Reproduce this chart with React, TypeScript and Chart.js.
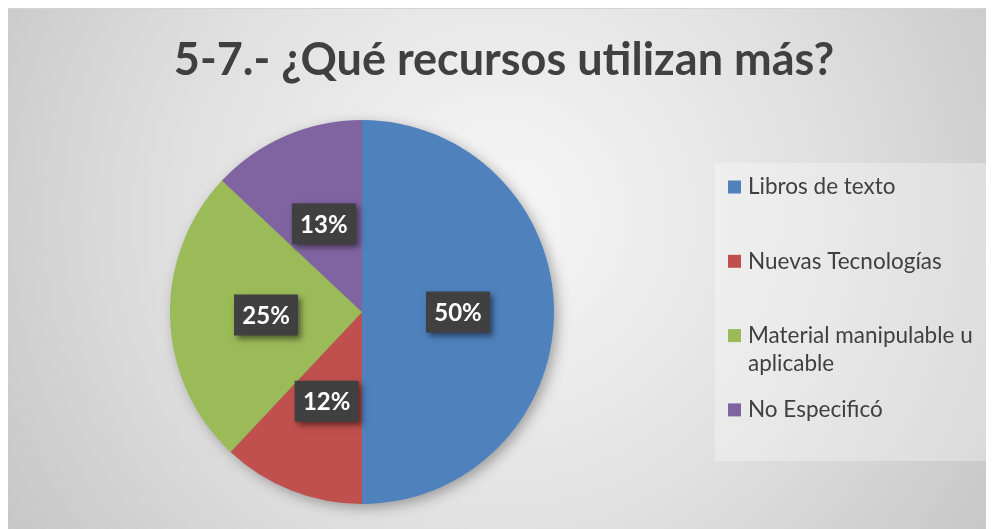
import React, { useEffect, useRef } from "react";
import { Chart, registerables } from "chart.js";

Chart.register(...registerables);

const TITLE = "5-7.- ¿Qué recursos utilizan más?";
const CATEGORIES = ["Libros de texto", "Nuevas Tecnologías", "Material manipulable u aplicable", "No Especificó"];
const VALUES = [50, 12, 25, 13];
const PCT_LABELS = ["50%", "12%", "25%", "13%"];
const COLORS = ["#4f81bd", "#c0504d", "#9bbb59", "#8064a2"];

const W = 986;
const H = 521;

const bgPlugin = {
  id: "bg",
  beforeDraw(chart: any) {
    const { ctx, width, height } = chart;
    ctx.save();
    const g = ctx.createRadialGradient(width * 0.5, height * 0.4, 0, width * 0.5, height * 0.4, width * 0.6);
    g.addColorStop(0, "#f7f7f7");
    g.addColorStop(0.55, "#e0e0e0");
    g.addColorStop(1, "#c6c6c6");
    ctx.fillStyle = g;
    ctx.fillRect(0, 0, width, height);
    ctx.fillStyle = "#d4d4d4";
    ctx.fillRect(0, 0, width, 1);
    ctx.fillStyle = "#404040";
    ctx.font = "bold 45px Lato";
    ctx.textAlign = "center";
    ctx.textBaseline = "middle";
    ctx.fillText(TITLE, 496, 52);
    ctx.restore();
  },
  beforeDatasetsDraw(chart: any) {
    const arc = chart.getDatasetMeta(0).data[0];
    if (!arc) return;
    const { ctx } = chart;
    ctx.save();
    ctx.shadowColor = "rgba(0,0,0,0.35)";
    ctx.shadowBlur = 14;
    ctx.shadowOffsetX = 4;
    ctx.shadowOffsetY = 4;
    ctx.fillStyle = "#888";
    ctx.beginPath();
    ctx.arc(arc.x, arc.y, arc.outerRadius - 1, 0, Math.PI * 2);
    ctx.fill();
    ctx.restore();
  },
  afterDatasetsDraw(chart: any) {
    const { ctx } = chart;
    const meta = chart.getDatasetMeta(0);
    meta.data.forEach((arc: any, i: number) => {
      const p = arc.tooltipPosition();
      const bw = 64, bh = 41;
      ctx.save();
      ctx.shadowColor = "rgba(0,0,0,0.5)";
      ctx.shadowBlur = 6;
      ctx.shadowOffsetX = 3;
      ctx.shadowOffsetY = 3;
      ctx.fillStyle = "#404040";
      ctx.fillRect(p.x - bw / 2, p.y - bh / 2, bw, bh);
      ctx.restore();
      ctx.save();
      ctx.fillStyle = "#ffffff";
      ctx.font = "bold 24px Lato";
      ctx.textAlign = "center";
      ctx.textBaseline = "middle";
      ctx.fillText(PCT_LABELS[i], p.x, p.y + 1);
      ctx.restore();
    });
  },
  afterDraw(chart: any) {
    const { ctx } = chart;
    ctx.save();
    const bx = 707, by = 155, bw = 272, bh = 298;
    ctx.fillStyle = "rgba(255,255,255,0.3)";
    ctx.fillRect(bx, by, bw, bh);
    ctx.font = "22.5px Lato";
    ctx.textBaseline = "middle";
    ctx.textAlign = "left";
    const textX = 740;
    const maxW = 236;
    const startY = 179;
    const step = 74.3;
    CATEGORIES.forEach((label, i) => {
      const y = startY + i * step;
      ctx.fillStyle = COLORS[i];
      ctx.fillRect(720, y - 6.5, 13, 13);
      ctx.fillStyle = "#404040";
      const words = label.split(" ");
      const lines: string[] = [];
      let cur = "";
      words.forEach((w) => {
        const t = cur ? cur + " " + w : w;
        if (ctx.measureText(t).width > maxW && cur) {
          lines.push(cur);
          cur = w;
        } else cur = t;
      });
      if (cur) lines.push(cur);
      lines.forEach((ln, j) => ctx.fillText(ln, textX, y + j * 28));
    });
    ctx.restore();
  },
};

export default function App() {
  const ref = useRef<HTMLCanvasElement>(null);
  useEffect(() => {
    if (!ref.current) return;
    const chart = new Chart(ref.current, {
      type: "pie",
      data: {
        labels: CATEGORIES,
        datasets: [
          {
            data: VALUES,
            backgroundColor: COLORS,
            borderWidth: 0,
          },
        ],
      },
      options: {
        responsive: false,
        animation: false,
        devicePixelRatio: 1,
        layout: { padding: { top: 112, left: 162, right: 440, bottom: 25 } },
        plugins: {
          legend: { display: false },
          tooltip: { enabled: false },
          title: { display: false },
        },
      },
      plugins: [bgPlugin],
    });
    return () => chart.destroy();
  }, []);
  return <canvas ref={ref} width={W} height={H} style={{ display: "block", width: W, height: H }} />;
}
